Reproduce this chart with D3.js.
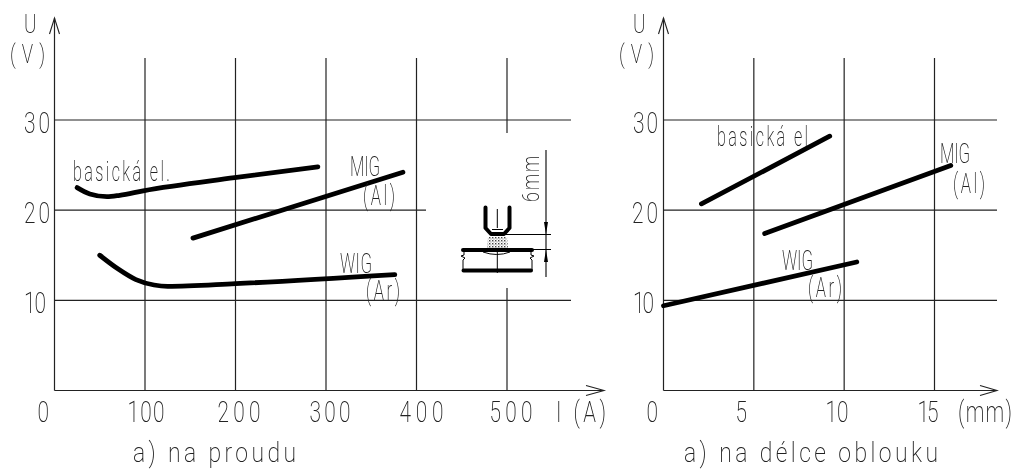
<!DOCTYPE html>
<html>
<head>
<meta charset="utf-8">
<style>
  html, body { margin: 0; padding: 0; background: #fff; }
  /* grayscale takes the subpixel colour fringes off the thin text */
  svg { display: block; filter: grayscale(1); }
  text { font-family: Roboto, "Liberation Sans Narrow", sans-serif; font-weight: 200; fill: #222; font-size: 29px; }
</style>
</head>
<body>
<div id="chart"></div>
<script src="https://cdn.jsdelivr.net/npm/d3@7"></script>
<script>
// values
var voltTicks = [10, 20, 30];
var ampTicks = [0, 100, 200, 300, 400, 500];
var mmTicks = [0, 5, 10, 15];

var basicAmp = [25, 39, 58, 72, 98, 199, 291];
var basicAmpU = [22.5, 21.8, 21.5, 21.65, 22.15, 23.6, 24.8];
var migAmp = [153, 385];
var migAmpU = [16.9, 24.2];
var wigAmp = [50, 70, 90, 110, 125, 200, 376];
var wigAmpU = [15, 13.5, 12.3, 11.7, 11.55, 11.85, 12.85];

var basicMm = [2.1, 9.2];
var basicMmU = [20.7, 28.2];
var migMm = [5.6, 15.9];
var migMmU = [17.4, 24.95];
var wigMm = [0, 10.7];
var wigMmU = [9.4, 14.25];

var width = 1016, height = 469;
var svg = d3.select("#chart").append("svg")
  .attr("width", width)
  .attr("height", height);

var y = d3.scaleLinear().domain([0, 30]).range([390.5, 120]);
var xA = d3.scaleLinear().domain([0, 500]).range([54.5, 507]);
var xB = d3.scaleLinear().domain([0, 15]).range([663.5, 934.5]);

// the text is very narrow in the drawing, so squeeze it and stretch to the measured width
var squeeze = 0.72;
function fit(sel, x0, x1, base, sq) {
  var s = sq || squeeze;
  sel.attr("x", 0).attr("y", 0).attr("dy", null).attr("dx", null)
    .attr("text-anchor", "start")
    .attr("transform", "translate(" + x0 + "," + base + ") scale(" + s + ",1)")
    .attr("textLength", (x1 - x0) / s)
    .attr("lengthAdjust", "spacing");
}
function label(txt, x0, x1, base, size, sq) {
  var t = svg.append("text").text(txt);
  if (size) t.style("font-size", size + "px");
  fit(t, x0, x1, base, sq);
  return t;
}
function hline(x0, x1, yy, w) {
  svg.append("line").attr("x1", x0).attr("x2", x1).attr("y1", yy).attr("y2", yy)
    .attr("stroke", "#222").attr("stroke-width", w || 1.2);
}
function vline(xx, y0, y1, w) {
  svg.append("line").attr("x1", xx).attr("x2", xx).attr("y1", y0).attr("y2", y1)
    .attr("stroke", "#222").attr("stroke-width", w || 1.2);
}
function open(pts) {
  svg.append("path").attr("d", d3.line()(pts)).attr("fill", "none")
    .attr("stroke", "#222").attr("stroke-width", 1.1);
}

// axes, only the tick labels come from the axis generator
function axes(x, ticks, tickPos, voltPos) {
  var gx = svg.append("g").attr("transform", "translate(0,422)")
    .call(d3.axisBottom(x).tickValues(ticks).tickSize(0).tickFormat(d3.format("d")));
  gx.select(".domain").remove();
  gx.selectAll("text").each(function(d, i) {
    var p = tickPos[i];
    fit(d3.select(this), p[0] - x(d), p[1] - x(d), 0);
  });
  var gy = svg.append("g").attr("transform", "translate(" + x(0) + ",0)")
    .call(d3.axisLeft(y).tickValues(voltTicks).tickSize(0).tickFormat(d3.format("d")));
  gy.select(".domain").remove();
  gy.selectAll("text").each(function(d, i) {
    var p = voltPos[i];
    fit(d3.select(this), p[0] - x(0), p[1] - x(0), 132 - y(30));
  });
}

axes(xA, ampTicks,
  [[37, 50], [127, 164], [217, 260], [309, 350], [399, 443], [489, 532]],
  [[24, 46], [24, 50], [24, 50]]);
axes(xB, mmTicks,
  [[646, 658], [735, 747], [825, 848], [917, 938]],
  [[633, 654], [632, 658], [633, 658]]);

// left panel grid
vline(xA(0), 18, y(0));
hline(xA(0), 604, y(0));
[100, 200, 300, 400].forEach(function(v) { vline(xA(v), 58, y(0)); });
vline(xA(500), 58, 133);
vline(xA(500), 288, y(0));
hline(xA(0), 571, y(30));
hline(xA(0), 426, y(20));
hline(xA(0), 571, y(10));
open([[49.5, 34], [54.5, 18], [59.5, 34]]);
open([[586, 385.5], [604, 390.5], [586, 395.5]]);

// right panel grid
vline(xB(0), 18, y(0));
hline(xB(0), 997, y(0));
[5, 10, 15].forEach(function(v) { vline(xB(v), 58, y(0)); });
voltTicks.forEach(function(v) { hline(xB(0), 997, y(v)); });
open([[658.5, 34], [663.5, 18], [668.5, 34]]);
open([[980, 385.5], [997, 390.5], [980, 395.5]]);

// curves
function curve(x, xs, us, kind) {
  var pts = xs.map(function(d, i) { return [x(d), y(us[i])]; });
  svg.append("path")
    .attr("d", d3.line().curve(kind || d3.curveLinear)(pts))
    .attr("fill", "none")
    .attr("stroke", "#000")
    .attr("stroke-width", 4.8)
    .attr("stroke-linecap", "round")
    .attr("stroke-linejoin", "round");
}
curve(xA, basicAmp, basicAmpU, d3.curveMonotoneX);
curve(xA, migAmp, migAmpU);
curve(xA, wigAmp, wigAmpU, d3.curveMonotoneX);
curve(xB, basicMm, basicMmU);
curve(xB, migMm, migMmU);
curve(xB, wigMm, wigMmU);

// labels
label("U", 24, 37, 33, 26);
label("(V)", 10, 45, 63, 26);
label("basická el.", 73, 170, 181, 27, 0.6);
label("MIG", 350, 380, 176, 28, 0.6);
label("(Al)", 363, 395, 205, 28, 0.6);
label("WIG", 340, 372, 273, 28, 0.6);
label("(Ar)", 366, 400, 300, 28, 0.6);
label("I (A)", 556, 606, 422);
label("a) na proudu", 133, 296, 462, 27, 0.85);

label("U", 633, 646, 33, 26);
label("(V)", 619, 654, 63, 26);
label("basická el", 717, 808, 146, 27, 0.6);
label("MIG", 940, 970, 163, 28, 0.6);
label("(Al)", 953, 985, 193, 28, 0.6);
label("WIG", 782, 813, 270, 28, 0.6);
label("(Ar)", 808, 842, 297, 28, 0.6);
label("(mm)", 958, 1012, 422);
label("a) na délce oblouku", 684, 938, 462, 27, 0.85);

// nozzle sketch next to the left graph
var defs = svg.append("defs");
var spray = defs.append("pattern").attr("id", "spray").attr("patternUnits", "userSpaceOnUse")
  .attr("width", 3).attr("height", 3);
spray.append("rect").attr("width", 1.4).attr("height", 1.4).attr("fill", "#444");
spray.append("rect").attr("x", 1.5).attr("y", 1.5).attr("width", 1).attr("height", 1).attr("fill", "#777");

var sketch = svg.append("g").attr("fill", "none").attr("stroke", "#000");
sketch.append("path").attr("d", "M485.5,207.5V228L491,234H504L509.5,228V207.5")
  .attr("stroke-width", 4).attr("stroke-linecap", "round").attr("stroke-linejoin", "round");
sketch.append("path").attr("d", "M497.3,209V228M492,229.5H503").attr("stroke-width", 1);
sketch.append("path").attr("d", "M488,237H507L508,248H487Z").attr("fill", "url(#spray)").attr("stroke", "none");
sketch.append("path").attr("d", "M463,250H532M463.5,270.5H531")
  .attr("stroke-width", 4).attr("stroke-linecap", "round");
sketch.append("path").attr("d", "M483,252Q497,257 510,252M497.3,252V273").attr("stroke-width", 1);
sketch.append("path").attr("d", "M464,252V255L461,256L465,258L463,260V270M531,252V255L534,256L530,258L532,260V270")
  .attr("stroke-width", 1);
sketch.append("path").attr("d", "M546,150V277M505,234.5H551M533,249.5H551").attr("stroke-width", 1.1);
sketch.append("path").attr("d", "M544,222H548L546,234.5ZM544,262H548L546,249.5Z").attr("fill", "#000").attr("stroke", "none");

svg.append("text").text("6mm")
  .attr("transform", "translate(539,202) rotate(-90) scale(0.75,1)")
  .attr("textLength", 46 / 0.75)
  .attr("lengthAdjust", "spacing")
  .style("font-size", "24px");
</script>
</body>
</html>
